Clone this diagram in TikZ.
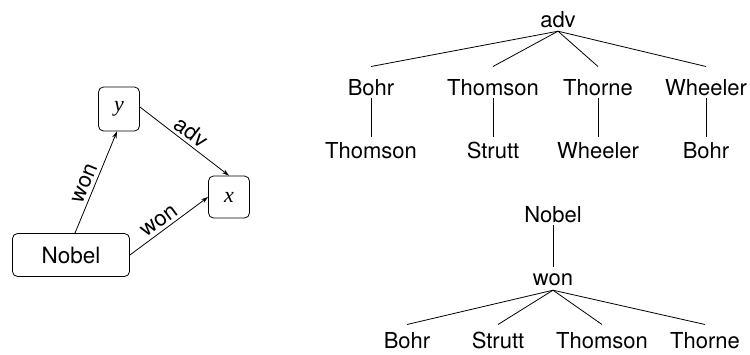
\documentclass[tikz,border=0pt]{standalone}
\usepackage{fontspec}
\setmainfont{TeX Gyre Heros}
\newfontfamily\varfont{Liberation Serif}
\usetikzlibrary{arrows.meta}
\begin{document}
\begin{tikzpicture}[x=1pt,y=-1pt,
  every node/.style={font=\fontsize{22}{24}\selectfont},
  word/.style={inner sep=0pt,text height=15.8pt,text depth=0pt,anchor=base},
  box/.style={draw,rounded corners=5pt,line width=0.8pt,inner sep=0pt},
  edge/.style={line width=0.8pt},
  arc/.style={line width=0.8pt,-{Stealth[length=7pt,width=4.5pt]}},
  lbl/.style={sloped,above,inner sep=3pt}]
\useasboundingbox (0,0) rectangle (750,354);

% graph on the left
\node[box,minimum width=117pt,minimum height=43pt,font=\fontsize{22.5}{24}\selectfont] (nobel) at (71,255) {Nobel};
\node[box,minimum width=41pt,minimum height=44pt] (y) at (119,109) {\varfont\itshape y};
\node[box,minimum width=41pt,minimum height=42pt] (x) at (229,197) {\varfont\itshape x};
\draw[arc] ([xshift=4pt]nobel.north) -- node[lbl,pos=0.45] {won} ([xshift=-2pt]y.south);
\draw[arc] (nobel.east) -- node[lbl,pos=0.45] {won} (x.west);
\draw[arc] ([yshift=2pt]y.east) -- node[lbl] {adv} (x.north);

% tree rooted at adv
\node[word] (adv) at (558,27) {adv};
\node[word] (a1) at (371,95) {Bohr};
\node[word] (a2) at (493,95) {Thomson};
\node[word] (a3) at (598,95) {Thorne};
\node[word] (a4) at (706,95) {Wheeler};
\node[word] (b1) at (371,158) {Thomson};
\node[word] (b2) at (493,158) {Strutt};
\node[word] (b3) at (598,158) {Wheeler};
\node[word] (b4) at (706,158) {Bohr};
\foreach \c in {a1,a2,a3,a4}
  \draw[edge] ([yshift=-4pt]adv.south) -- ([yshift=12.5pt]\c.north);
\foreach \p/\c in {a1/b1,a2/b2,a3/b3,a4/b4}
  \draw[edge] ([yshift=-3pt]\p.south) -- ([yshift=5.5pt]\c.north);

% tree rooted at Nobel
\node[word] (n) at (553,222) {Nobel};
\node[word] (w) at (553,285) {won};
\node[word] (c1) at (407,348) {Bohr};
\node[word] (c2) at (498,348) {Strutt};
\node[word] (c3) at (602,348) {Thomson};
\node[word] (c4) at (705,348) {Thorne};
\draw[edge] ([yshift=-3pt]n.south) -- ([yshift=2.5pt]w.north);
\foreach \c in {c1,c2,c3,c4}
  \draw[edge] ([yshift=-5pt]w.south) -- ([yshift=7.5pt]\c.north);
\end{tikzpicture}
\end{document}
